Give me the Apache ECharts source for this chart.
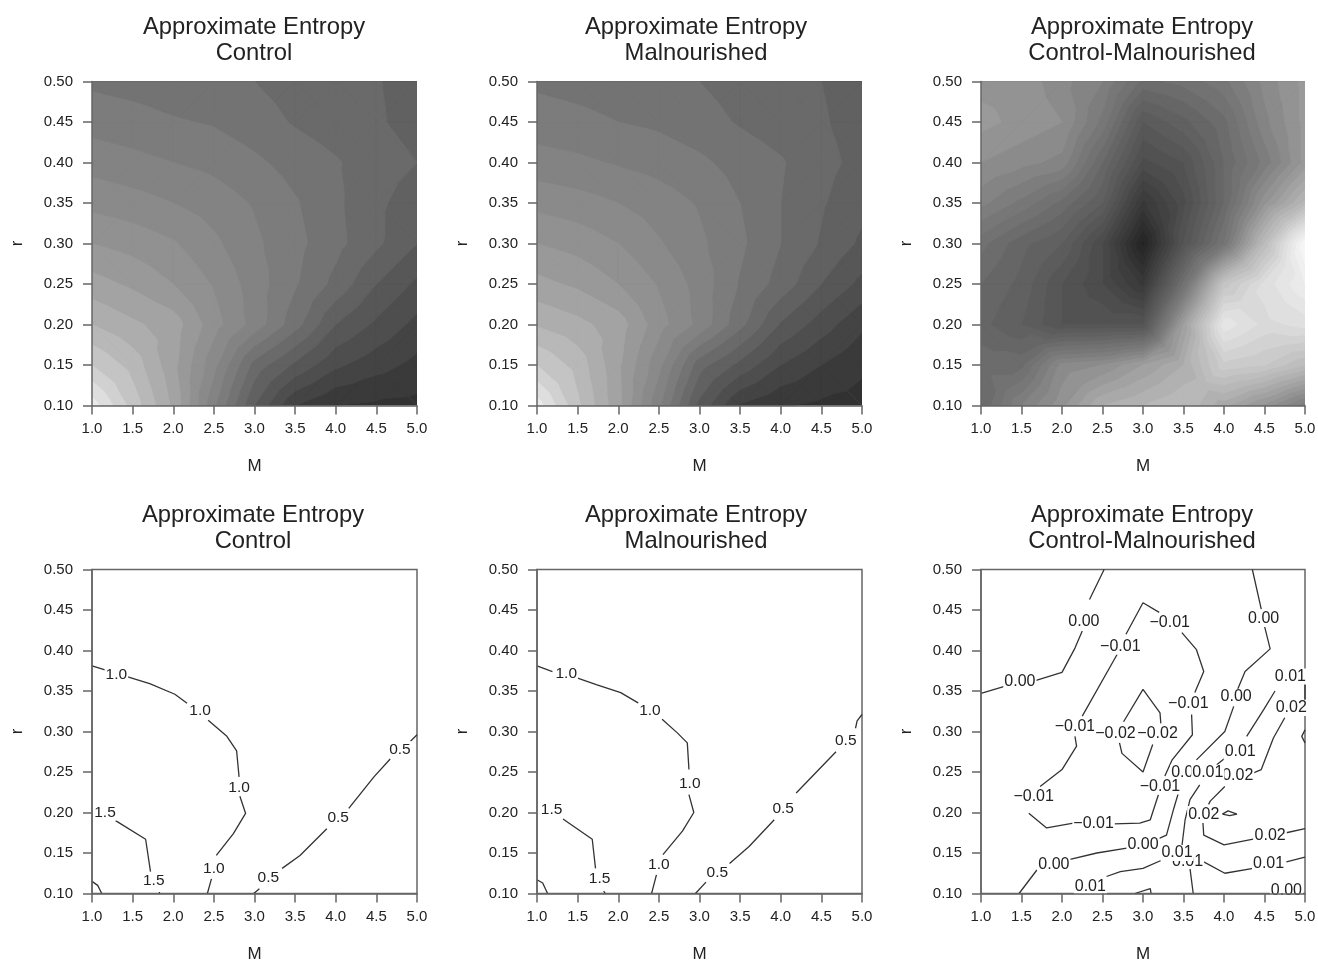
<!DOCTYPE html>
<html>
<head>
<meta charset="utf-8">
<style>html,body{margin:0;padding:0;background:#fff}#c{width:1318px;height:964px;filter:blur(0.5px)}</style>
<script src="https://cdn.jsdelivr.net/npm/echarts@6/dist/echarts.min.js"></script>
</head>
<body>
<div id="c"></div>
<script>
// ---- axis positions of the measured grid ----
const mValues = [1.0,1.5,2.0,2.5,3.0,3.5,4.0,4.5,5.0];
const rValues = [0.10,0.15,0.20,0.25,0.30,0.35,0.40,0.45,0.50];

// ---- filled-surface values, one row per r (0.10 first), one column per M ----
const controlGrid = [
 [1.95,1.66,1.38,0.92,0.50,0.20,0.10,0.08,0.07],
 [1.70,1.56,1.33,1.03,0.66,0.48,0.32,0.24,0.17],
 [1.50,1.42,1.35,1.14,0.96,0.74,0.50,0.38,0.27],
 [1.34,1.28,1.20,1.09,0.95,0.81,0.67,0.50,0.38],
 [1.20,1.16,1.11,1.02,0.92,0.83,0.73,0.62,0.50],
 [1.07,1.04,1.00,0.955,0.89,0.81,0.72,0.62,0.55],
 [0.96,0.93,0.90,0.87,0.82,0.76,0.71,0.64,0.60],
 [0.86,0.84,0.81,0.79,0.745,0.69,0.65,0.61,0.57],
 [0.78,0.76,0.74,0.72,0.70,0.66,0.635,0.605,0.57]
];
const malnourishedGrid = [
 [1.95,1.62,1.33,0.92,0.47,0.19,0.11,0.08,0.06],
 [1.70,1.56,1.32,1.03,0.64,0.47,0.30,0.20,0.12],
 [1.49,1.43,1.35,1.14,0.97,0.73,0.49,0.35,0.22],
 [1.33,1.28,1.20,1.09,0.96,0.79,0.66,0.50,0.37],
 [1.20,1.16,1.10,1.01,0.92,0.82,0.70,0.59,0.48],
 [1.07,1.04,1.00,0.95,0.89,0.80,0.70,0.61,0.53],
 [0.94,0.92,0.89,0.86,0.82,0.76,0.71,0.63,0.57],
 [0.85,0.83,0.80,0.78,0.74,0.69,0.65,0.61,0.56],
 [0.78,0.76,0.74,0.72,0.70,0.66,0.63,0.60,0.56]
];
const differenceGrid = [
 [-0.006,0.000,0.004,0.009,0.0105,0.012,0.008,0.004,-0.001],
 [-0.005,-0.005,0.002,0.003,0.006,0.009,0.016,0.015,0.012],
 [-0.007,-0.009,-0.012,-0.012,-0.012,0.006,0.022,0.019,0.020],
 [-0.006,-0.008,-0.012,-0.015,-0.020,-0.004,0.014,0.020,0.024],
 [-0.004,-0.007,-0.009,-0.015,-0.026,-0.012,-0.003,0.012,0.027],
 [0.0005,-0.002,-0.005,-0.009,-0.020,-0.014,-0.006,0.004,0.011],
 [0.003,0.002,0.001,-0.006,-0.014,-0.012,-0.006,-0.001,0.005],
 [0.005,0.004,0.003,-0.002,-0.0105,-0.008,-0.005,0.001,0.005],
 [0.004,0.004,0.002,0.000,-0.005,-0.004,-0.002,0.002,0.005]
];

// ---- contour lines: [M, r] pieces, broken at the labels ----
const controlContours = [
 [[1,.381],[1.16,.376]],
 [[1.42,.368],[1.71,.359],[2.02,.346],[2.17,.335]],
 [[2.43,.314],[2.66,.294],[2.78,.276],[2.81,.244]],
 [[2.82,.22],[2.89,.199],[2.74,.174],[2.53,.147]],
 [[2.47,.118],[2.42,.1]],
 [[1.29,.19],[1.66,.167],[1.72,.127]],
 [[1.83,.102],[1.83,.1]],
 [[1,.115],[1.07,.11],[1.12,.1]],
 [[2.99,.1],[3.06,.106]],
 [[3.34,.131],[3.56,.147],[3.89,.18]],
 [[4.16,.205],[4.47,.244],[4.67,.266]],
 [[4.92,.288],[5,.296]]
];
const malnourishedContours = [
 [[1,.381],[1.19,.374]],
 [[1.5,.366],[1.73,.358],[2.03,.348],[2.25,.335]],
 [[2.54,.315],[2.73,.298],[2.85,.286],[2.87,.253]],
 [[2.87,.222],[2.93,.2],[2.79,.177],[2.55,.148]],
 [[2.47,.123],[2.41,.1]],
 [[1.32,.192],[1.68,.167],[1.72,.131]],
 [[1.82,.103],[1.84,.1]],
 [[1,.117],[1.07,.113],[1.13,.1]],
 [[2.95,.1],[3.08,.114]],
 [[3.37,.137],[3.61,.158],[3.92,.191]],
 [[4.19,.224],[4.68,.275]],
 [[4.92,.304],[4.94,.313],[5,.321]]
];
const differenceContours = [
 [[1,.347],[1.30,.356]],
 [[1.68,.363],[2.0,.373],[2.16,.403],[2.25,.424]],
 [[2.34,.463],[2.52,.5]],
 [[4.35,.5],[4.46,.451]],
 [[4.5,.43],[4.57,.402],[4.26,.374],[4.16,.35]],
 [[4.12,.331],[4.01,.3],[3.66,.265]],
 [[3.46,.232],[3.38,.205],[3.29,.172],[3.2,.168]],
 [[2.8,.156],[2.43,.15],[2.1,.142]],
 [[1.69,.129],[1.47,.1]],
 [[2.79,.42],[3.0,.459],[3.2,.447]],
 [[3.48,.422],[3.66,.401],[3.75,.374],[3.64,.348]],
 [[3.6,.321],[3.61,.296],[3.36,.265],[3.27,.245]],
 [[3.19,.222],[3.09,.191],[2.96,.187],[2.64,.186]],
 [[2.14,.187],[1.81,.181],[1.59,.199]],
 [[1.73,.232],[2.0,.253],[2.18,.282],[2.16,.294]],
 [[2.25,.319],[2.68,.395]],
 [[2.76,.312],[3.0,.352],[3.21,.323],[3.22,.31]],
 [[3.12,.284],[3.0,.25],[2.74,.273],[2.71,.286]],
 [[4.63,.35],[4.49,.327],[4.28,.294]],
 [[4.01,.267],[3.91,.259]],
 [[3.7,.234],[3.58,.216],[3.52,.191],[3.48,.158]],
 [[2.55,.121],[2.72,.127],[3.0,.131],[3.25,.142]],
 [[3.58,.131],[3.62,.1]],
 [[3.75,.139],[4.01,.125],[4.36,.131]],
 [[4.77,.139],[5,.145]],
 [[5,.36],[5,.34]],
 [[4.75,.317],[4.61,.292],[4.46,.253],[4.32,.247]],
 [[4.01,.232],[3.83,.214],[3.81,.21]],
 [[3.74,.187],[3.75,.172],[4.0,.16],[4.36,.167]],
 [[4.77,.175],[5,.18]],
 [[3.98,.198],[4.05,.202],[4.16,.198],[4.07,.196],[3.98,.198]],
 [[5,.302],[4.96,.294],[5,.286]],
 [[2.9,.1],[3.09,.106],[3.1,.1]]
];

// ---- contour labels: [M, r, text] ----
const controlLabels = [
 [1.30,.370,'1.0'],[2.33,.326,'1.0'],[2.81,.231,'1.0'],[2.50,.130,'1.0'],
 [1.16,.200,'1.5'],[1.76,.116,'1.5'],
 [4.79,.278,'0.5'],[4.03,.194,'0.5'],[3.17,.120,'0.5']
];
const malnourishedLabels = [
 [1.36,.371,'1.0'],[2.39,.326,'1.0'],[2.88,.235,'1.0'],[2.50,.135,'1.0'],
 [1.18,.203,'1.5'],[1.77,.118,'1.5'],
 [4.80,.289,'0.5'],[4.03,.205,'0.5'],[3.22,.126,'0.5']
];
const differenceLabels = [
 [1.48,.362,'0.00'],[2.27,.436,'0.00'],[4.49,.439,'0.00'],[4.15,.343,'0.00'],
 [3.0,.160,'0.00'],[1.9,.136,'0.00'],[4.77,.104,'0.00'],[3.54,.249,'0.00'],
 [3.55,.140,'0.01'],[4.17,.245,'0.02'],
 [4.82,.368,'0.01'],[4.2,.275,'0.01'],[3.80,.249,'0.01'],[3.42,.150,'0.01'],
 [2.35,.109,'0.01'],[4.55,.137,'0.01'],
 [3.33,.434,'\u22120.01'],[2.72,.405,'\u22120.01'],[3.56,.335,'\u22120.01'],[2.16,.306,'\u22120.01'],
 [3.21,.232,'\u22120.01'],[2.39,.186,'\u22120.01'],[1.65,.220,'\u22120.01'],
 [2.66,.297,'\u22120.02'],[3.18,.297,'\u22120.02'],
 [4.83,.329,'0.02'],[3.75,.198,'0.02'],[4.57,.172,'0.02']
];

// ---- titles and axis text ----
const titleLines = ['Approximate Entropy\nControl','Approximate Entropy\nMalnourished','Approximate Entropy\nControl-Malnourished'];
const xAxisName = 'M';
const yAxisName = 'r';

// ---- layout ----
const plotLeft = [92,537,981], plotWidth = [325,325,324];
const plotTop = [81.5,569.5], plotHeight = 324;
const titleCentre = [[249,691,1137],[248,691,1137]];
const titleTop = [9,497];

// value -> grey, piecewise between anchor pairs
function grey(anchors, v){
  let g = anchors[anchors.length-1][1];
  for(let i=0;i<anchors.length-1;i++){
    if(v<=anchors[i+1][0]){
      const a=anchors[i],b=anchors[i+1];
      g=a[1]+(b[1]-a[1])*(Math.max(v,a[0])-a[0])/(b[0]-a[0]);
      break;
    }
  }
  g=Math.round(g);
  return 'rgb('+g+','+g+','+g+')';
}
const entropyGrey = [[0,44],[0.5,92],[0.8,120],[1.2,148],[1.5,178],[1.7,202],[2.0,242]];
const differenceGrey = [[-0.027,32],[-0.015,74],[-0.006,105],[0,128],[0.01,178],[0.02,222],[0.027,248]];

// clip a polygon of [M,r,z] corners to one side of a level
function clip(poly,lev,keepAbove){
  const out=[];
  for(let i=0;i<poly.length;i++){
    const a=poly[i],b=poly[(i+1)%poly.length];
    const ia=keepAbove?a[2]>=lev:a[2]<=lev, ib=keepAbove?b[2]>=lev:b[2]<=lev;
    if(ia) out.push(a);
    if(ia!==ib){
      const t=(lev-a[2])/(b[2]-a[2]);
      out.push([a[0]+(b[0]-a[0])*t,a[1]+(b[1]-a[1])*t,lev]);
    }
  }
  return out;
}
// filled bands: every grid cell is cut into four triangles around its centre
function bandPolygons(grid,lo,hi,step,ramp){
  const res=[];
  for(let l=lo;l<hi-1e-9;l+=step){
    const color=grey(ramp,l+step/2);
    for(let j=0;j<rValues.length-1;j++)for(let i=0;i<mValues.length-1;i++){
      const p=(a,b)=>[mValues[a],rValues[b],grid[b][a]];
      const A=p(i,j),B=p(i+1,j),C=p(i+1,j+1),D=p(i,j+1);
      const O=[(A[0]+C[0])/2,(A[1]+C[1])/2,(A[2]+B[2]+C[2]+D[2])/4];
      [[A,B,O],[B,C,O],[C,D,O],[D,A,O]].forEach(tri=>{
        const poly=clip(tri,l,true);   // painted lowest band first, higher bands on top
        if(poly.length>=3) res.push({poly,color});
      });
    }
  }
  return res;
}

function contourData(pieces){
  const d=[];
  pieces.forEach(s=>{s.forEach(p=>d.push(p));d.push(['-','-']);});
  return d;
}

const panels=[
 {row:0,col:0,grid:controlGrid,lo:0,hi:2.1,step:0.1,ramp:entropyGrey},
 {row:0,col:1,grid:malnourishedGrid,lo:0,hi:2.1,step:0.1,ramp:entropyGrey},
 {row:0,col:2,grid:differenceGrid,lo:-0.03,hi:0.03,step:0.0015,ramp:differenceGrey},
 {row:1,col:0,lines:controlContours,labels:controlLabels,labelSize:15.5},
 {row:1,col:1,lines:malnourishedContours,labels:malnourishedLabels,labelSize:15.5},
 {row:1,col:2,lines:differenceContours,labels:differenceLabels,labelSize:16}
];

const option={animation:false,backgroundColor:'#fff',title:[],grid:[],xAxis:[],yAxis:[],series:[]};
const FONT='"Liberation Sans", Arial, sans-serif';
const INK='#222', AXIS='#666';

panels.forEach((p,n)=>{
  const filled=!!p.grid;
  option.title.push({text:titleLines[p.col],left:titleCentre[p.row][p.col],top:titleTop[p.row],textAlign:'center',
    textStyle:{fontFamily:FONT,fontSize:23.8,fontWeight:'normal',lineHeight:26.5,color:INK}});
  option.grid.push({left:plotLeft[p.col],top:plotTop[p.row],width:plotWidth[p.col],height:plotHeight,
    outerBoundsMode:'none',show:!filled,borderColor:AXIS,borderWidth:1.5,backgroundColor:'transparent'});
  const axisCommon={type:'value',gridIndex:n,z:5,splitLine:{show:false},
    axisLine:{onZero:false,lineStyle:{color:AXIS,width:1.5}},
    axisTick:{length:9,lineStyle:{color:AXIS,width:1.5}},
    nameLocation:'middle',nameTextStyle:{fontFamily:FONT,fontSize:17,color:INK}};
  option.xAxis.push(Object.assign({},axisCommon,{min:1,max:5,interval:0.5,name:xAxisName,nameGap:52,
    axisLabel:{fontFamily:FONT,fontSize:15,color:INK,margin:16,formatter:v=>v.toFixed(1),hideOverlap:false,showMinLabel:true,showMaxLabel:true}}));
  option.yAxis.push(Object.assign({},axisCommon,{min:0.1,max:0.5,interval:0.05,name:yAxisName,nameGap:66,
    axisLabel:{fontFamily:FONT,fontSize:15,color:INK,margin:19,formatter:v=>v.toFixed(2),hideOverlap:false,showMinLabel:true,showMaxLabel:true}}));
  if(filled){
    const polys=bandPolygons(p.grid,p.lo,p.hi,p.step,p.ramp);
    option.series.push({type:'custom',xAxisIndex:n,yAxisIndex:n,silent:true,clip:true,z:2,
      data:[[1,0.1]],encode:{x:0,y:1},
      renderItem:(params,api)=>({type:'group',children:polys.map(o=>({
        type:'polygon',shape:{points:o.poly.map(v=>api.coord([v[0],v[1]]))},
        style:{fill:o.color,stroke:o.color,lineWidth:0.8}}))})});
  }else{
    option.series.push({type:'line',xAxisIndex:n,yAxisIndex:n,silent:true,symbol:'none',connectNulls:false,z:3,
      data:contourData(p.lines),lineStyle:{color:'#333',width:1.3}});
    option.series.push({type:'scatter',xAxisIndex:n,yAxisIndex:n,silent:true,symbolSize:0,z:4,
      itemStyle:{opacity:1},
      data:p.labels,label:{show:true,position:'inside',formatter:o=>o.data[2],fontFamily:FONT,fontSize:p.labelSize,
        color:INK,backgroundColor:'#fff',padding:[0,1]}});
  }
});

const chart=echarts.init(document.getElementById('c'),null,{renderer:'canvas'});
chart.setOption(option);
</script>
</body>
</html>
